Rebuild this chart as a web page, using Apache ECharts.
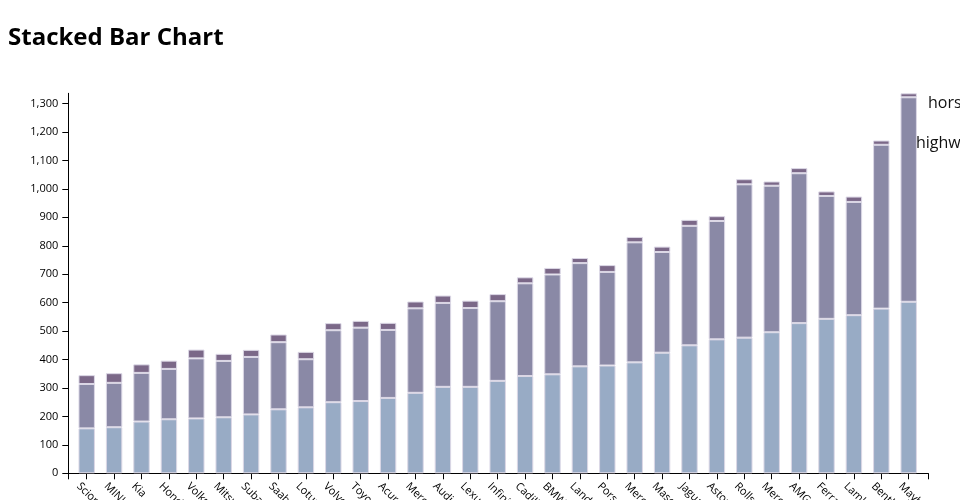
<!DOCTYPE html>
<html>
<head>
<meta charset="utf-8">
<script src="https://cdn.jsdelivr.net/npm/echarts@6/dist/echarts.min.js"></script>
<style>
html,body{margin:0;padding:0;background:#fff;}
#chart{width:960px;height:500px;}
</style>
</head>
<body>
<div id="chart"></div>
<script>
const categories = ["Scion","MINI","Kia","Honda","Volkswagen","Mitsubishi","Subaru","Saab","Lotus","Volvo","Toyota","Acura","Mercury","Audi","Lexus","Infiniti","Cadillac","BMW","Land Rover","Porsche","Mercedes-Benz","Maserati","Jaguar","Aston Martin","Rolls-Royce","Mercedes","AMG","Ferrari","Lamborghini","Bentley","Maybach"];
const horsepower = [158,162,182,190,193,197,207,225,232,250,254,265,283,304,304,325,342,348,376,379,390,424,450,471,477,496,528,543,556,579,603];
const price = [156,156,171,177,211,198,202,236,169,253,258,239,297,295,277,280,326,351,363,329,422,354,420,416,539,515,527,432,398,576,719];
const highwayMpg = [31,34,30,29,31,25,25,27,26,25,24,25,24,26,26,25,21,23,18,24,19,19,21,17,18,15,18,16,19,15,14];
const yTicks = {min:0, interval:100};

const totals = categories.map((c,i)=>horsepower[i]+price[i]+highwayMpg[i]);
const yMax = Math.max(...totals);

const chart = echarts.init(document.getElementById('chart'), null, {renderer:'canvas'});
const font = 'Open Sans';
const border = {borderColor:'#dcd8e6', borderWidth:1};
const gTop = 93.3, gBottom = 26.7;

chart.setOption({
  animation:false,
  textStyle:{fontFamily:font},
  title:{text:'Stacked Bar Chart', left:3, top:21, textStyle:{fontFamily:font, fontSize:24, fontWeight:'bold', color:'#000'}},
  legend:[
    {data:['horsepower'], left:918, top:90, icon:'none', itemWidth:0, itemHeight:0, textStyle:{fontFamily:font, fontSize:16, color:'#111'}},
    {data:['highway mpg'], left:906, top:130, icon:'none', itemWidth:0, itemHeight:0, textStyle:{fontFamily:font, fontSize:16, color:'#111'}}
  ],
  grid:[
    {left:73, right:37.6, top:gTop, bottom:gBottom, outerBoundsMode:'none', containLabel:false},
    {left:68.3, right:31.7, top:gTop, bottom:gBottom, outerBoundsMode:'none', containLabel:false}
  ],
  xAxis:[
    {type:'category', gridIndex:0, data:categories,
      axisLine:{show:false},
      axisTick:{show:true, alignWithLabel:true, length:6, lineStyle:{color:'#000'}},
      axisLabel:{rotate:-45, interval:0, fontSize:11, color:'#000', fontFamily:font, margin:3, align:'left', verticalAlign:'top', padding:[6,0,0,0]}
    },
    {type:'value', gridIndex:1, min:0, max:1, interval:1,
      axisLine:{show:true, lineStyle:{color:'#000'}},
      axisTick:{show:true, length:6, lineStyle:{color:'#000'}},
      axisLabel:{show:false}, splitLine:{show:false}
    }
  ],
  yAxis:[
    {type:'value', gridIndex:0, min:0, max:yMax, show:false, splitLine:{show:false}},
    {type:'value', gridIndex:1, min:yTicks.min, max:yMax, interval:yTicks.interval,
      axisLine:{show:true, lineStyle:{color:'#000'}},
      axisTick:{show:true, length:6, lineStyle:{color:'#000'}},
      axisLabel:{fontSize:11, color:'#000', fontFamily:font, margin:10, showMaxLabel:false,
        formatter:v=>v.toLocaleString('en-US')},
      splitLine:{show:false}
    }
  ],
  series:[
    {name:'horsepower', type:'bar', stack:'s', xAxisIndex:0, yAxisIndex:0, data:horsepower, barWidth:'60%', itemStyle:Object.assign({color:'#98abc5'}, border)},
    {name:'price', type:'bar', stack:'s', xAxisIndex:0, yAxisIndex:0, data:price, barWidth:'60%', itemStyle:Object.assign({color:'#8a89a6'}, border)},
    {name:'highway mpg', type:'bar', stack:'s', xAxisIndex:0, yAxisIndex:0, data:highwayMpg, barWidth:'60%', itemStyle:Object.assign({color:'#7b6888'}, border)}
  ]
});
</script>
</body>
</html>
